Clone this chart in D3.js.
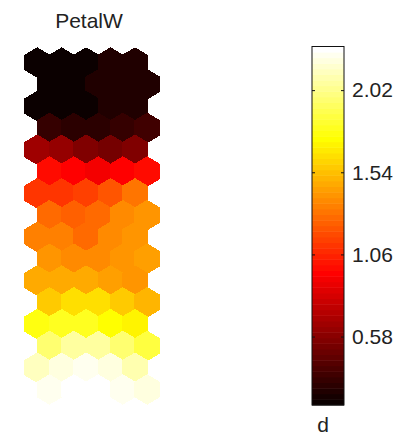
<html>
  <head>
    <title>PetalW component plane</title>
    <style>
      body { margin: 0; background: #fff; }
    </style>
  </head>
  <body>
    <script src="https://d3js.org/d3.v7.min.js"></script>
    <script>
      (function() {
        // SOM grid, 16 rows x 5 columns, hexagonal lattice (odd rows shifted right)
        var GRID_ROWS = 16;
        var GRID_COLS = 5;

        // Component plane values, row by row (top to bottom)
        var petalW = [
          0.20, 0.20, 0.20, 0.25, 0.27,
          0.20, 0.20, 0.25, 0.25, 0.27,
          0.19, 0.19, 0.20, 0.25, 0.26,
          0.33, 0.31, 0.30, 0.33, 0.36,
          0.66, 0.62, 0.57, 0.52, 0.55,
          0.98, 0.95, 0.91, 0.94, 0.98,
          1.11, 1.10, 1.15, 1.20, 1.30,
          1.27, 1.26, 1.29, 1.36, 1.41,
          1.35, 1.33, 1.29, 1.36, 1.40,
          1.40, 1.39, 1.39, 1.41, 1.44,
          1.46, 1.47, 1.46, 1.44, 1.42,
          1.58, 1.63, 1.63, 1.56, 1.49,
          1.76, 1.79, 1.80, 1.75, 1.71,
          1.98, 2.05, 2.05, 1.98, 1.88,
          2.12, 2.19, 2.24, 2.19, 2.09,
          2.21, 2.28, 2.28, 2.23, 2.19
        ];

        // Colorbar
        var colorDomain = [0.18, 2.275];
        var colorTicks = [0.58, 1.06, 1.54, 2.02];
        var title = 'PetalW';
        var barLabel = 'd';

        var WIDTH = 414, HEIGHT = 439;
        var LEVELS = 64;
        var FONT = 'Liberation Sans, Arial, sans-serif';

        var svg = d3.select('body')
          .append('svg')
          .attr('width', WIDTH)
          .attr('height', HEIGHT);

        // MATLAB "hot" colormap, 64 discrete levels
        function hot(v) {
          var k = Math.floor((v - colorDomain[0]) / (colorDomain[1] - colorDomain[0]) * LEVELS);
          k = Math.max(0, Math.min(LEVELS - 1, k));
          var i = k + 1;
          var n1 = Math.floor(3 / 8 * LEVELS); // 24
          var r = i <= n1 ? i / n1 : 1;
          var g = i <= n1 ? 0 : (i <= 2 * n1 ? (i - n1) / n1 : 1);
          var b = i <= 2 * n1 ? 0 : (i - 2 * n1) / (LEVELS - 2 * n1);
          return d3.rgb(r * 255, g * 255, b * 255).formatHex();
        }

        // Hex map scales
        var x = d3.scaleLinear().domain([-0.5, GRID_COLS]).range([25, 159.4]);
        var y = d3.scaleLinear().domain([0, GRID_ROWS - 1]).range([62.5, 389.5]);
        var halfW = (x(1) - x(0)) / 2;
        var rad = (y(1) - y(0)) / 1.5;

        var hexPath = d3.line()([
          [0, -rad], [halfW, -rad / 2], [halfW, rad / 2],
          [0, rad], [-halfW, rad / 2], [-halfW, -rad / 2]
        ]) + 'Z';

        var cells = petalW.map(function(v, idx) {
          var row = Math.floor(idx / GRID_COLS);
          var col = idx % GRID_COLS;
          return { row: row, col: col, value: v };
        });

        svg.append('g')
          .selectAll('path')
          .data(cells)
          .join('path')
          .attr('d', hexPath)
          .attr('transform', function(d) {
            return 'translate(' + x(d.col + (d.row % 2) * 0.5) + ',' + y(d.row) + ')';
          })
          .attr('fill', function(d) { return hot(d.value); })
          .attr('stroke', function(d) { return hot(d.value); })
          .attr('stroke-width', 1.2)
          .attr('stroke-linejoin', 'round')
          .attr('shape-rendering', 'crispEdges');

        // Title
        svg.append('text')
          .text(title)
          .attr('x', 89)
          .attr('y', 28)
          .attr('font-family', FONT)
          .attr('font-size', '21px')
          .attr('fill', '#222')
          .attr('text-anchor', 'middle');

        // Colorbar
        var BAR_LEFT = 312, BAR_RIGHT = 344;
        var cy = d3.scaleLinear().domain(colorDomain).range([405, 46.5]);
        var step = (colorDomain[1] - colorDomain[0]) / LEVELS;
        var levels = d3.range(LEVELS).map(function(k) { return colorDomain[0] + k * step; });

        svg.append('g')
          .selectAll('rect')
          .data(levels)
          .join('rect')
          .attr('x', BAR_LEFT)
          .attr('width', BAR_RIGHT - BAR_LEFT)
          .attr('y', function(d) { return cy(d + step); })
          .attr('height', function(d) { return cy(d) - cy(d + step) + 0.5; })
          .attr('fill', function(d) { return hot(d + step / 2); });

        svg.append('rect')
          .attr('x', BAR_LEFT)
          .attr('y', cy(colorDomain[1]))
          .attr('width', BAR_RIGHT - BAR_LEFT)
          .attr('height', cy(colorDomain[0]) - cy(colorDomain[1]))
          .attr('fill', 'none')
          .attr('stroke', '#111')
          .attr('stroke-width', 1);

        // inward ticks on both sides, labels on the right
        var leftAxis = svg.append('g')
          .attr('transform', 'translate(' + BAR_LEFT + ',0)')
          .call(d3.axisLeft(cy).tickValues(colorTicks).tickSizeInner(-3).tickSizeOuter(0).tickFormat(''));
        var rightAxis = svg.append('g')
          .attr('transform', 'translate(' + BAR_RIGHT + ',0)')
          .call(d3.axisRight(cy).tickValues(colorTicks).tickSizeInner(-3).tickSizeOuter(0)
            .tickPadding(8).tickFormat(d3.format('.2f')));

        [leftAxis, rightAxis].forEach(function(ax) {
          ax.select('.domain').remove();
          ax.selectAll('line').attr('stroke', '#111');
        });
        rightAxis.selectAll('text')
          .attr('font-family', FONT)
          .attr('font-size', '21px')
          .attr('fill', '#222');

        svg.append('text')
          .text(barLabel)
          .attr('x', 323)
          .attr('y', 432)
          .attr('font-family', FONT)
          .attr('font-size', '21px')
          .attr('fill', '#222')
          .attr('text-anchor', 'middle');
      })();
    </script>
  </body>
</html>
